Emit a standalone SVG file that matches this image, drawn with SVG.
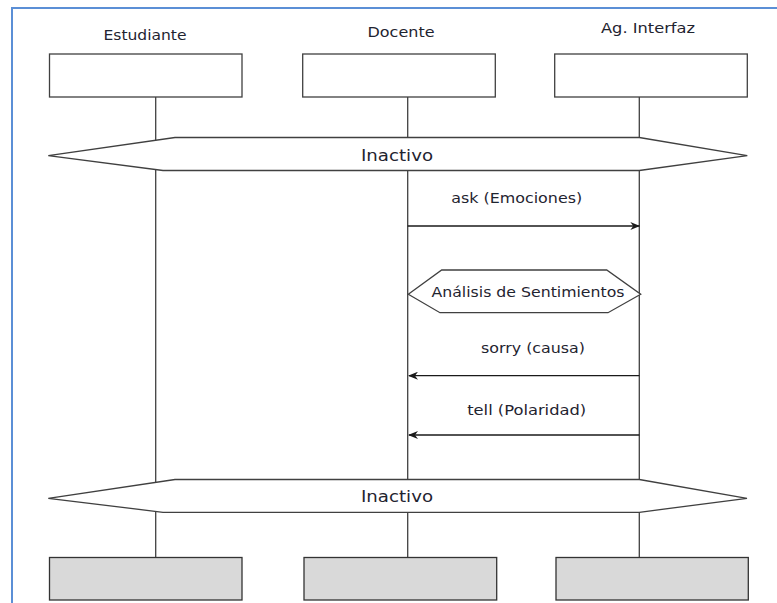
<svg xmlns="http://www.w3.org/2000/svg" width="777" height="603" viewBox="0 0 777 603">
  <style>
    .frame { fill: none; stroke: #5b8fd6; stroke-width: 2; }
    .box { fill: #ffffff; stroke: #404040; stroke-width: 1.3; }
    .box-end { fill: #d9d9d9; stroke: #333333; stroke-width: 1.3; }
    .life { stroke: #404040; stroke-width: 1.3; fill: none; }
    .band { fill: #ffffff; stroke: #404040; stroke-width: 1.3; }
    .msg { stroke: #1a1a1a; stroke-width: 1.3; fill: none; }
    text { font-family: "DejaVu Sans", "Liberation Sans", sans-serif; fill: #1f2430; text-anchor: middle; dominant-baseline: central; }
    .title { font-size: 14px; }
    .state { font-size: 16px; }
    .label { font-size: 14px; }
  </style>
  <defs>
    <marker id="arrow" markerWidth="10" markerHeight="8" refX="9" refY="4" orient="auto" markerUnits="userSpaceOnUse">
      <path d="M0,0 L10,4 L0,8 L3,4 z" fill="#1a1a1a"/>
    </marker>
  </defs>

  <rect width="777" height="603" fill="#ffffff"/>
  <path class="frame" d="M12,603 L12,8 L777,8"/>

  <!-- lifelines -->
  <g id="lifelines">
    <line class="life" x1="155.7" y1="97" x2="155.7" y2="557"/>
    <line class="life" x1="407.7" y1="97" x2="407.7" y2="557"/>
    <line class="life" x1="639.3" y1="97" x2="639.3" y2="557"/>
  </g>

  <g id="estudiante">
    <text class="title" x="145" y="35" textLength="83" lengthAdjust="spacingAndGlyphs">Estudiante</text>
    <rect class="box" x="49.5" y="54" width="192.5" height="43"/>
    <rect class="box-end" x="49.5" y="557.5" width="192.5" height="42.5"/>
  </g>

  <g id="docente">
    <text class="title" x="401" y="32" textLength="67" lengthAdjust="spacingAndGlyphs">Docente</text>
    <rect class="box" x="302.7" y="54" width="192.6" height="43"/>
    <rect class="box-end" x="304" y="557.5" width="192.7" height="42.5"/>
  </g>

  <g id="ag-interfaz">
    <text class="title" x="648" y="28" textLength="94" lengthAdjust="spacingAndGlyphs">Ag. Interfaz</text>
    <rect class="box" x="554.7" y="54" width="192.6" height="43"/>
    <rect class="box-end" x="556" y="557.5" width="192.3" height="42.5"/>
  </g>

  <g id="inactivo-1">
    <polygon class="band" points="48.3,155.7 175,137.5 639.3,137.5 747.3,155.7 639.3,170.5 163,170.5"/>
    <text class="state" x="397" y="155.7" textLength="72" lengthAdjust="spacingAndGlyphs">Inactivo</text>
  </g>

  <g id="analisis">
    <polygon class="band" points="408.3,294.3 441.7,270 606.7,270 640.7,294.3 608,312.7 440,312.7"/>
    <text class="label" x="528" y="291.5" textLength="193" lengthAdjust="spacingAndGlyphs">Análisis de Sentimientos</text>
  </g>

  <g id="inactivo-2">
    <polygon class="band" points="48.3,498.3 175,479.5 639.3,479.5 747,498.3 639.3,512.3 163,512.3"/>
    <text class="state" x="397" y="496" textLength="72" lengthAdjust="spacingAndGlyphs">Inactivo</text>
  </g>

  <g id="connectors">
    <line class="msg" x1="407.7" y1="226" x2="639.3" y2="226" marker-end="url(#arrow)"/>
    <line class="msg" x1="639.3" y1="375.7" x2="409" y2="375.7" marker-end="url(#arrow)"/>
    <line class="msg" x1="639.3" y1="435" x2="409" y2="435" marker-end="url(#arrow)"/>
  </g>

  <g id="labels">
    <text class="label" x="516.7" y="198" textLength="131" lengthAdjust="spacingAndGlyphs">ask (Emociones)</text>
    <text class="label" x="533" y="347.5" textLength="104" lengthAdjust="spacingAndGlyphs">sorry (causa)</text>
    <text class="label" x="526.7" y="410" textLength="119" lengthAdjust="spacingAndGlyphs">tell (Polaridad)</text>
  </g>
</svg>
